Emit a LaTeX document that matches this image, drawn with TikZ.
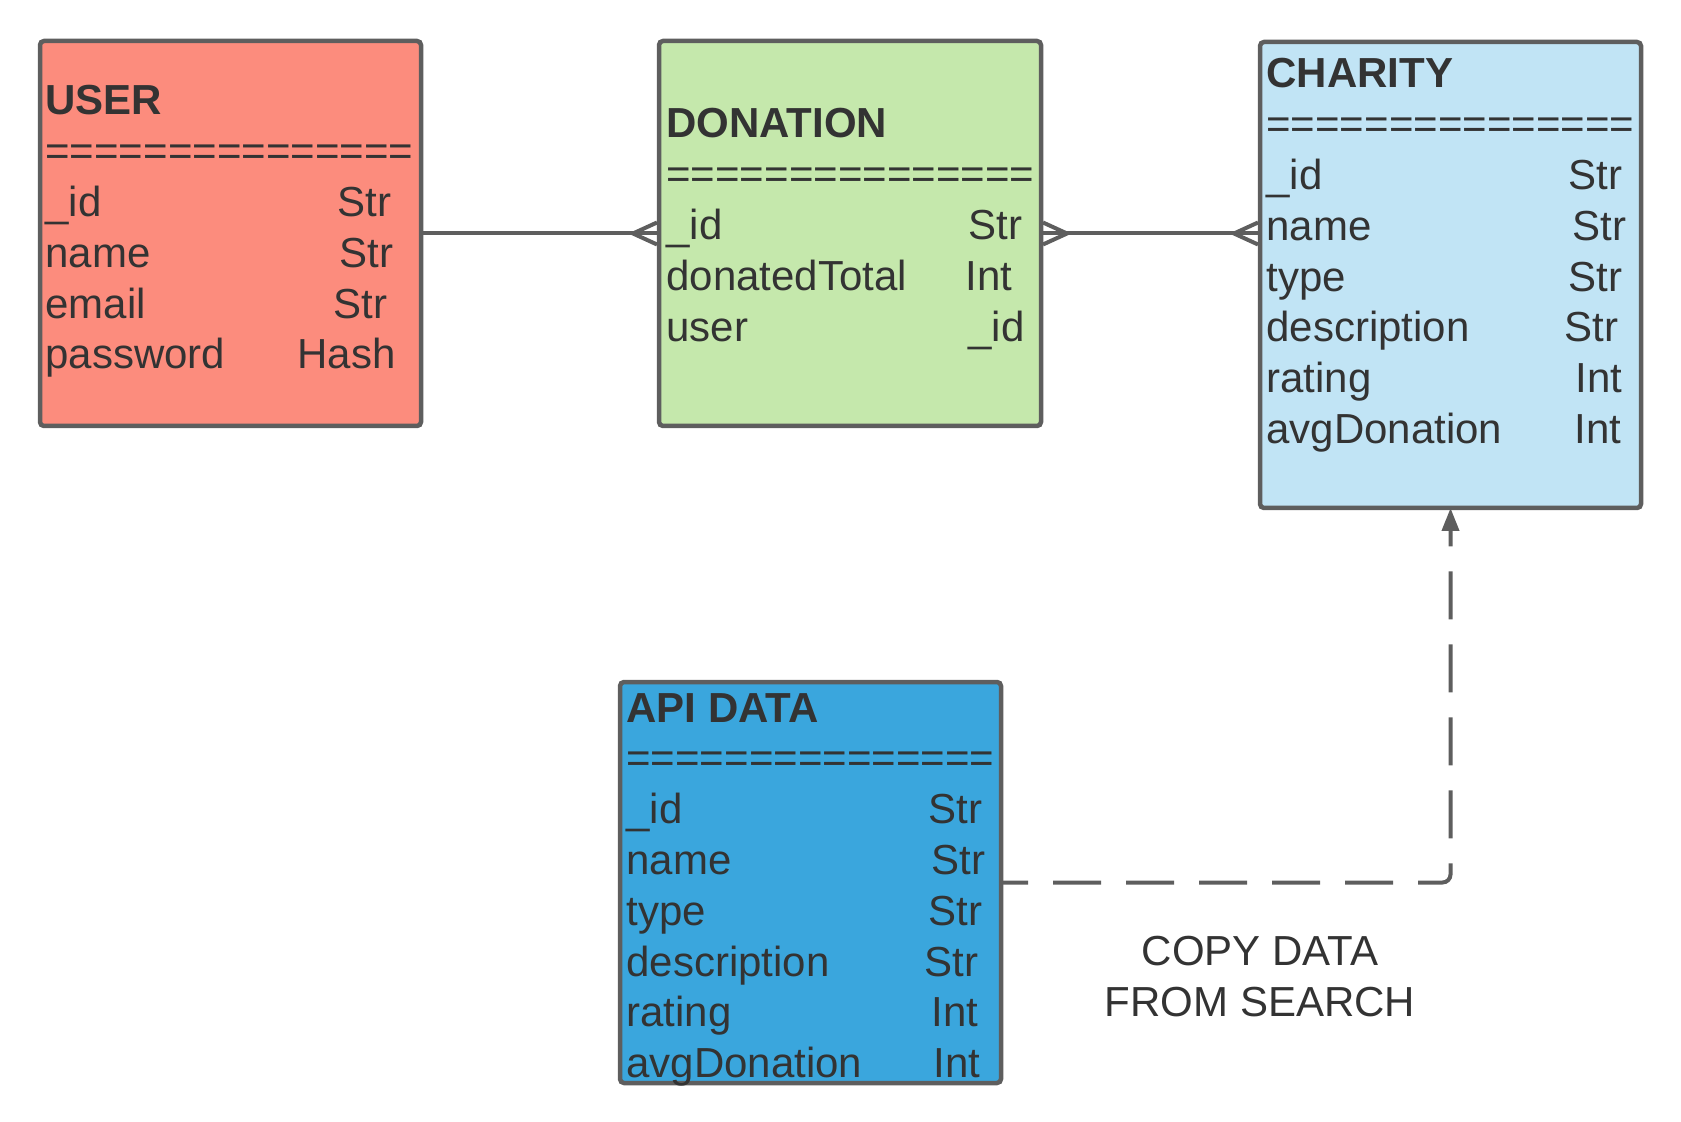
\documentclass[tikz,border=0pt]{standalone}
\usepackage{fontspec}
\setmainfont{Liberation Sans}
\usetikzlibrary{arrows.meta}
\definecolor{userred}{HTML}{FC8C7D}
\definecolor{donationgreen}{HTML}{C5E8AC}
\definecolor{charityblue}{HTML}{C1E4F5}
\definecolor{apiblue}{HTML}{3AA6DD}
\definecolor{edgegray}{HTML}{5E5E5E}
\definecolor{txtgray}{HTML}{333333}
\tikzset{
	entity/.style={draw=edgegray, line width=2.25pt, rounded corners=2pt, inner sep=0pt, outer sep=0pt},
	field/.style={inner sep=0pt, text=txtgray, anchor=base west, font=\fontsize{21}{25.4}\selectfont},
	title/.style={field, font=\fontsize{21}{25.4}\selectfont\bfseries},
	link/.style={draw=edgegray, line width=2pt},
	crow/.style={-{Straight Barb[reversed, length=12pt, width=11pt, line width=2pt]}},
	crows/.style={{Straight Barb[reversed, length=12pt, width=11pt, line width=2pt]}-{Straight Barb[reversed, length=12pt, width=11pt, line width=2pt]}}
}

\begin{document}
\begin{tikzpicture}[x=0.5pt, y=-0.5pt]
	\useasboundingbox (0,0) rectangle (1681,1122);
	% user
	\node[entity, fill=userred, minimum width=190.5pt, minimum height=192.5pt] (user) at (230.5,233.5) {};
	\node[title] (usertitle) at (45,115) {USER};
	\node[field] (userbar) at (45,165.8) {===============};
	\foreach \N/\T/\X [count=\i] in {\_id/Str/337, name/Str/339, email/Str/333, password/Hash/297}
	{\node[field] (userf\i) at (45,165.8+50.8*\i) {\N};
	 \node[field] (usert\i) at (\X,165.8+50.8*\i) {\T};}
	% donation
	\node[entity, fill=donationgreen, minimum width=191pt, minimum height=192.5pt] (donation) at (850,233.5) {};
	\node[title] (dontitle) at (666,138) {DONATION};
	\node[field] (donbar) at (666,188.8) {===============};
	\foreach \N/\T/\X [count=\i] in {\_id/Str/968, donatedTotal/Int/965, user/\_id/968}
	{\node[field] (donf\i) at (666,188.8+50.8*\i) {\N};
	 \node[field] (dont\i) at (\X,188.8+50.8*\i) {\T};}
	% charity
	\node[entity, fill=charityblue, minimum width=190.5pt, minimum height=233pt] (charity) at (1450.5,275) {};
	\node[title] (chartitle) at (1266,88) {CHARITY};
	\node[field] (charbar) at (1266,138.8) {===============};
	\foreach \N/\T/\X [count=\i] in {\_id/Str/1568, name/Str/1572, type/Str/1568,
		description/Str/1564, rating/Int/1575, avgDonation/Int/1574}
	{\node[field] (charf\i) at (1266,138.8+50.8*\i) {\N};
	 \node[field] (chart\i) at (\X,138.8+50.8*\i) {\T};}
	% api data
	\node[entity, fill=apiblue, minimum width=190.5pt, minimum height=200.5pt] (api) at (810.5,882.5) {};
	\node[title] (apititle) at (626,722) {API DATA};
	\node[field] (apibar) at (626,772.8) {===============};
	\foreach \N/\T/\X [count=\i] in {\_id/Str/928, name/Str/931, type/Str/928,
		description/Str/924, rating/Int/931, avgDonation/Int/933}
	{\node[field] (apif\i) at (626,772.8+50.8*\i) {\N};
	 \node[field] (apit\i) at (\X,772.8+50.8*\i) {\T};}
	% links (drawn twice so the middle toe reaches the box)
	\draw[link] (user.east) -- (donation.west);
	\draw[link, crow] (user.east) -- (donation.west);
	\draw[link] (donation.east) -- (donation.east -| charity.west);
	\draw[link, crows] (donation.east) -- (donation.east -| charity.west);
	\draw[link, dash pattern=on 24pt off 12.5pt, dash phase=10.5pt, rounded corners=4pt,
		-{Triangle[length=11.5pt, width=8.5pt]}] (api.east) -| (charity.south);
	\node[field, anchor=base, align=center] (copy) at (1260,1016) {COPY DATA\\FROM SEARCH};
\end{tikzpicture}
\end{document}
